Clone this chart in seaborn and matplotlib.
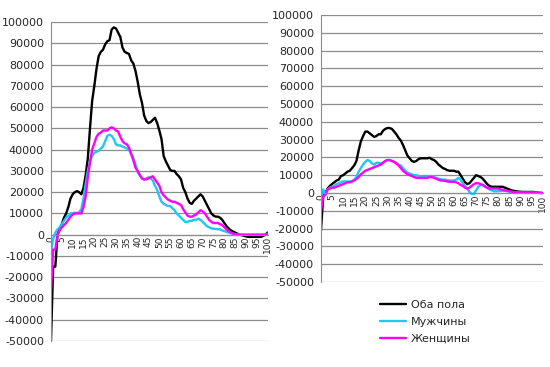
import numpy as np
import pandas as pd
import matplotlib
matplotlib.use("Agg")
import matplotlib.pyplot as plt
import seaborn as sns

# ages 0..100
ages = list(range(101))

# left panel
left_both = [-50000, -15000, -15000, 0, 3000, 5000, 8000, 10000, 13000, 17000,
             19000, 20000, 20500, 20000, 19000, 22000, 28000, 36000, 50000, 63000,
             70000, 78000, 84000, 86000, 87000, 89500, 91000, 91500, 96500, 97500,
             97000, 95000, 93000, 88000, 86000, 85500, 85000, 82000, 80500, 77000,
             72000, 66000, 62000, 56000, 53500, 52500, 53000, 54000, 55000, 52500,
             49000, 45000, 37000, 34500, 32500, 30500, 30000, 30000, 28500, 27500,
             26000, 22000, 20000, 17000, 15000, 14500, 16000, 17000, 18000, 19000,
             18000, 16000, 14000, 12000, 10000, 9000, 8500, 8500, 8000, 7000,
             5500, 4000, 3000, 2000, 1500, 1000, 500, 0, -200, -500,
             -800, -1000, -1000, -1000, -1000, -1000, -1000, -1000, -500, 0, 1000]
left_men = [-8000, -2000, 1000, 2500, 3500, 5000, 6500, 8000, 9000, 10000,
            10200, 10300, 10300, 10500, 12000, 17000, 24000, 30000, 34500, 37000,
            38500, 39000, 39500, 40500, 41500, 44000, 46500, 47000, 46500, 45000,
            42500, 42000, 42000, 41500, 41000, 40500, 40000, 38000, 36000, 33000,
            29500, 28000, 26500, 26000, 26500, 27000, 26500, 25500, 23000, 21000,
            18000, 15500, 14500, 14000, 13500, 13500, 12500, 11500, 10000, 9000,
            8000, 7000, 6000, 6000, 6500, 6500, 7000, 7000, 7500, 7000,
            6000, 5000, 4000, 3500, 3000, 2800, 2700, 2600, 2500, 2000,
            1700, 1300, 1000, 700, 500, 300, 200, 100, 0, 0,
            0, 0, 0, 0, 0, 0, 0, 0, 0, 0, 0]
left_women = [-26000, -7000, -7000, 0, 2000, 3500, 4500, 5500, 7000, 8500,
              9500, 10000, 10000, 10000, 10000, 13000, 18000, 27000, 34000, 40000,
              43000, 46000, 47500, 48000, 49000, 49000, 49000, 50000, 50500, 50000,
              49000, 48500, 46000, 44000, 43000, 42500, 41000, 38000, 35000, 31500,
              30000, 28000, 26500, 26000, 26000, 26500, 27000, 27500, 26000, 24500,
              23000, 20000, 18500, 17500, 16500, 16000, 15500, 15500, 15000, 14500,
              14000, 12000, 10500, 9000, 8500, 8500, 9000, 9500, 10500, 11500,
              11000, 10000, 8500, 7000, 6000, 5500, 5500, 5500, 5000, 4500,
              3500, 2500, 1500, 1000, 500, 200, 0, 0, 0, 0,
              0, 0, 0, 0, 0, 0, 0, 0, 0, 0, 500]

# right panel
right_both = [-21000, -2000, 0, 2500, 4000, 5000, 6000, 7000, 7500, 9500,
              10000, 11000, 12000, 12500, 14000, 15500, 18000, 24000, 29000, 32000,
              34500, 34500, 33500, 32500, 31500, 32000, 33000, 33000, 35000, 36000,
              36500, 36500, 36000, 34500, 33000, 31000, 29500, 27000, 24000, 21000,
              19500, 18000, 17500, 18000, 19000, 19500, 19500, 19500, 19500, 19800,
              19000, 18500, 17500, 16000, 15000, 14000, 13500, 12800, 12500, 12500,
              12500, 12000, 12000, 10000, 8000, 6000, 5000, 5500, 7000, 8500,
              10000, 9500, 9000, 8000, 6500, 5000, 4000, 3500, 3500, 3500,
              3500, 3500, 3500, 3000, 2500, 2000, 1500, 1200, 1000, 800,
              700, 600, 600, 600, 600, 600, 600, 400, 200, 100, 0]
right_men = [-3000, 2000, -1000, 2000, 3000, 3500, 4000, 5000, 5500, 6000,
             6500, 6500, 6500, 6500, 6500, 7500, 9000, 12000, 14000, 16000,
             17500, 18500, 18000, 16500, 16000, 17000, 17000, 16500, 17000, 18000,
             18500, 18500, 18000, 17500, 17000, 16000, 15500, 14000, 12500, 11500,
             11000, 10500, 10000, 10000, 9500, 9500, 9000, 9000, 9000, 9500,
             9500, 9000, 8500, 8000, 7800, 7500, 7500, 7200, 7000, 7000,
             7000, 7500, 8500, 7500, 5500, 4000, 2500, 500, -500, -500,
             1500, 3500, 4500, 4500, 4000, 3000, 2000, 1500, 1000, 1000,
             1000, 1200, 1200, 1200, 1000, 800, 500, 300, 200, 200,
             200, 200, 200, 200, 200, 200, 200, 100, 100, 0, 0]
right_women = [-10000, -2000, -1000, 2000, 2500, 3000, 3000, 3500, 4000, 4500,
               5000, 5500, 6000, 6000, 6500, 7000, 8000, 9000, 10500, 11500,
               12500, 13000, 13500, 14000, 14500, 15000, 15500, 16000, 17000, 18000,
               18500, 18500, 18000, 17500, 16500, 15500, 14000, 12500, 11500, 10500,
               10000, 9500, 9000, 8500, 8500, 8500, 8500, 8500, 8500, 9000,
               9000, 8500, 8000, 7500, 7000, 7000, 6800, 6500, 6300, 6300,
               6300, 6000, 5500, 4500, 4000, 3000, 2500, 3000, 4000, 5000,
               5500, 5500, 5000, 4500, 3500, 3000, 2500, 2500, 2500, 2500,
               2500, 2000, 1800, 1500, 1200, 1000, 800, 600, 500, 400,
               400, 400, 300, 300, 300, 300, 300, 200, 100, 0, 0]

labels = ["Оба пола", "Мужчины", "Женщины"]
colors = ["#000000", "#1EC8F0", "#FF00FF"]

sns.set_style("white")
plt.rcParams['font.family'] = ['DejaVu Sans']
plt.rcParams['axes.unicode_minus'] = False

fig = plt.figure(figsize=(5.5, 3.67), dpi=100)
ax1 = fig.add_axes([0.0927, 0.0708, 0.394, 0.869])
ax2 = fig.add_axes([0.5836, 0.2316, 0.403, 0.7275])


def draw(ax, series):
    for vals, lab, col in zip(series, labels, colors):
        sns.lineplot(x=ages, y=vals, ax=ax, color=col, linewidth=1.7, label=lab)
    ax.get_legend().remove()
    # x axis crosses at zero
    ax.spines['bottom'].set_position(('data', 0))
    ax.spines['bottom'].set_color("#8C8C8C")
    ax.spines['left'].set_color("#8C8C8C")
    ax.spines['top'].set_visible(False)
    ax.spines['right'].set_visible(False)
    ax.set_ylim(-50000, 100000)
    ax.set_xlim(0, 100)
    ax.set_yticks(range(-50000, 100001, 10000))
    ax.set_xticks(range(0, 101, 5))
    ax.set_xticklabels([str(v) for v in range(0, 101, 5)], rotation=90, fontsize=6.5)
    ax.tick_params(axis='y', labelsize=8, length=0, pad=5)
    ax.tick_params(axis='x', length=0, pad=1)
    ax.yaxis.grid(True, color="#8C8C8C", linewidth=0.9)
    ax.set_axisbelow(True)


draw(ax1, [left_both, left_men, left_women])
draw(ax2, [right_both, right_men, right_women])

handles, labs = ax2.get_legend_handles_labels()
fig.legend(handles, labs, loc='upper left', bbox_to_anchor=(0.682, 0.195),
           frameon=False, fontsize=8, handlelength=2.4, handletextpad=0.4,
           labelspacing=0.62, borderaxespad=0)

fig.savefig("out.png", dpi=100)
